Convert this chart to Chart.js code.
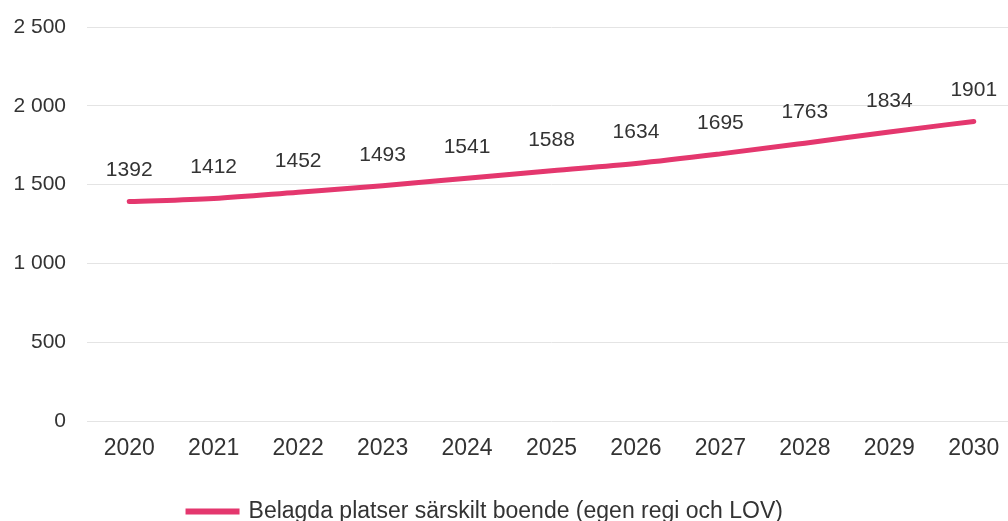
<!DOCTYPE html>
<html>
<head>
<meta charset="utf-8">
<script src="https://cdn.jsdelivr.net/npm/chart.js@4.4.1/dist/chart.umd.min.js"></script>
<style>
  body { margin: 0; overflow: hidden; background: #ffffff; }
  #wrap { position: absolute; left: 0; top: 0; width: 1016px; height: 521px; }
</style>
</head>
<body>
<div id="wrap"><canvas id="chart" width="1016" height="521"></canvas></div>
<script>
var years = ["2020", "2021", "2022", "2023", "2024", "2025", "2026", "2027", "2028", "2029", "2030"]
var platser = [1392, 1412, 1452, 1493, 1541, 1588, 1634, 1695, 1763, 1834, 1901]
var seriesLabel = "Belagda platser särskilt boende (egen regi och LOV)"
var lineColor = "#e4376e"
var textColor = "#333333"
var fontFamily = "'Liberation Sans', Arial, sans-serif"

function spaced(v) {
  return String(v).replace(/\B(?=(\d{3})+(?!\d))/g, " ")
}

// values written above each point
var pointLabels = {
  id: "pointLabels",
  afterDatasetsDraw: function(chart) {
    var ctx = chart.ctx
    var meta = chart.getDatasetMeta(0)
    ctx.save()
    ctx.fillStyle = textColor
    ctx.font = "21px " + fontFamily
    ctx.textAlign = "center"
    ctx.textBaseline = "middle"
    meta.data.forEach(function(pt, i) {
      ctx.fillText(String(platser[i]), pt.x, pt.y - 31)
    })
    ctx.restore()
  }
}

// the legend sits a bit lower and left of centre in the original
var legendNudge = {
  id: "legendNudge",
  afterLayout: function(chart) {
    var lg = chart.legend
    lg.top += 12
    lg.bottom += 12
    lg.right -= 45
  }
}

new Chart(document.getElementById("chart"), {
  type: "line",
  plugins: [pointLabels, legendNudge],
  data: {
    labels: years,
    datasets: [{
      label: seriesLabel,
      data: platser,
      borderColor: lineColor,
      backgroundColor: lineColor,
      borderWidth: 5,
      pointRadius: 0,
      cubicInterpolationMode: "monotone",
      borderCapStyle: "round"
    }]
  },
  options: {
    responsive: false,
    animation: false,
    layout: {
      padding: { top: 27, right: 0, bottom: 0, left: 0 }
    },
    scales: {
      x: {
        offset: true,
        afterFit: function(scale) { scale.height = 53 },
        grid: { display: false, drawTicks: false },
        border: { display: false },
        ticks: {
          color: textColor,
          padding: 14,
          font: { family: fontFamily, size: 23 }
        }
      },
      y: {
        min: 0,
        max: 2500,
        afterFit: function(scale) {
          scale.width = 87
          scale.paddingTop = 0
          scale.paddingBottom = 0
        },
        grid: { color: "#e4e4e4", lineWidth: 1, drawTicks: false },
        border: { display: false },
        ticks: {
          stepSize: 500,
          color: textColor,
          padding: 21,
          font: { family: fontFamily, size: 21 },
          callback: function(v) { return spaced(v) }
        }
      }
    },
    plugins: {
      legend: {
        position: "bottom",
        labels: {
          color: textColor,
          boxWidth: 49,
          boxHeight: 1,
          padding: 14,
          font: { family: fontFamily, size: 23 }
        }
      },
      tooltip: { enabled: false }
    }
  }
})
</script>
</body>
</html>
